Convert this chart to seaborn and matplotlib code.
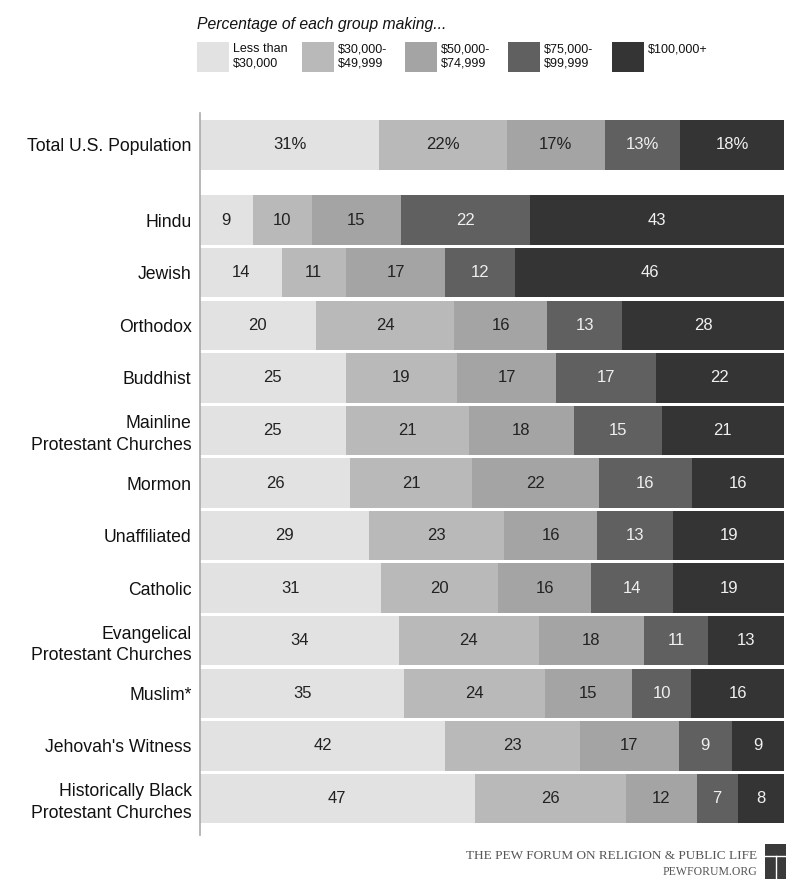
import numpy as np
import pandas as pd
import matplotlib
matplotlib.use("Agg")
import matplotlib.pyplot as plt
import seaborn as sns
from matplotlib.patches import Rectangle

groups = ["Total U.S. Population", "Hindu", "Jewish", "Orthodox", "Buddhist",
          "Mainline\nProtestant Churches", "Mormon", "Unaffiliated", "Catholic",
          "Evangelical\nProtestant Churches", "Muslim*", "Jehovah's Witness",
          "Historically Black\nProtestant Churches"]
brackets = ["Less than\n$30,000", "$30,000-\n$49,999", "$50,000-\n$74,999",
            "$75,000-\n$99,999", "$100,000+"]
under_30k = [31, 9, 14, 20, 25, 25, 26, 29, 31, 34, 35, 42, 47]
k30_50 = [22, 10, 11, 24, 19, 21, 21, 23, 20, 24, 24, 23, 26]
k50_75 = [17, 15, 17, 16, 17, 18, 22, 16, 16, 18, 15, 17, 12]
k75_100 = [13, 22, 12, 13, 17, 15, 16, 13, 14, 11, 10, 9, 7]
over_100k = [18, 43, 46, 28, 22, 21, 16, 19, 19, 13, 16, 9, 8]

colors = ["#e2e2e2", "#b9b9b9", "#a4a4a4", "#606060", "#343434"]
text_colors = ["#222222", "#222222", "#222222", "#f0f0f0", "#f0f0f0"]

plt.rcParams["font.family"] = ["Liberation Sans", "DejaVu Sans"]

vals = np.array([under_30k, k30_50, k50_75, k75_100, over_100k], dtype=float).T
# scale each row so the bars all end at the same edge (rounding in source)
widths = vals / vals.sum(axis=1, keepdims=True) * 100
cum = np.cumsum(widths, axis=1)

pos = np.array([0.0] + [1.43 + i for i in range(len(groups) - 1)])

fig = plt.figure(figsize=(7.93, 8.82), dpi=100)
ax = fig.add_axes([0.252, 0.053, 0.737, 0.819])

for k in reversed(range(5)):
    df = pd.DataFrame({"x": cum[:, k], "y": pos})
    sns.barplot(data=df, x="x", y="y", orient="h", native_scale=True,
                color=colors[k], saturation=1, width=0.94, linewidth=0,
                errorbar=None, ax=ax)

for i in range(len(groups)):
    for k in range(5):
        left = cum[i, k] - widths[i, k]
        label = f"{int(vals[i, k])}" + ("%" if i == 0 else "")
        ax.text(left + widths[i, k] / 2, pos[i], label, ha="center", va="center",
                fontsize=12, color=text_colors[k])

ax.set_xlim(0, 100)
ax.set_ylim(13.13, -0.61)
ax.set_yticks(pos)
ax.set_yticklabels(groups, fontsize=12.7, multialignment="right", color="#111111",
                   linespacing=1.35)
ax.tick_params(axis="y", length=0, pad=6)
ax.set_xticks([])
ax.set_xlabel("")
ax.set_ylabel("")
for s in ["top", "right", "bottom"]:
    ax.spines[s].set_visible(False)
ax.spines["left"].set_color("#aaaaaa")
ax.spines["left"].set_linewidth(1.2)

# legend
W, H = 793, 882
fig.text(197 / W, 1 - 25 / H, "Percentage of each group making...", fontsize=11.3,
         style="italic", ha="left", va="center", color="#111111")
sq_x = [197, 302, 405, 508, 612]
for k in range(5):
    fig.add_artist(Rectangle((sq_x[k] / W, 1 - 72 / H), 32 / W, 30 / H,
                             transform=fig.transFigure, facecolor=colors[k],
                             edgecolor="none"))
    fig.text((sq_x[k] + 36) / W, 1 - 43 / H, brackets[k], fontsize=9,
             ha="left", va="top", color="#111111", linespacing=1.3)

# footer
fig.text(757 / W, 1 - 856 / H, "THE PEW FORUM ON RELIGION & PUBLIC LIFE",
         fontsize=9.5, family="Liberation Serif", ha="right", va="center",
         color="#555555")
fig.text(757 / W, 1 - 872 / H, "PEWFORUM.ORG", fontsize=8.5,
         family="Liberation Serif", ha="right", va="center", color="#555555")
fig.add_artist(Rectangle((765 / W, 1 - 879 / H), 21 / W, 35 / H,
                         transform=fig.transFigure, facecolor="#3a3a3a",
                         edgecolor="none"))
fig.add_artist(plt.Line2D([765 / W, 786 / W], [1 - 856 / H, 1 - 856 / H],
                          transform=fig.transFigure, color="white", lw=1))
fig.add_artist(plt.Line2D([776 / W, 776 / W], [1 - 856 / H, 1 - 879 / H],
                          transform=fig.transFigure, color="white", lw=1))

fig.savefig("out.png", dpi=100)
